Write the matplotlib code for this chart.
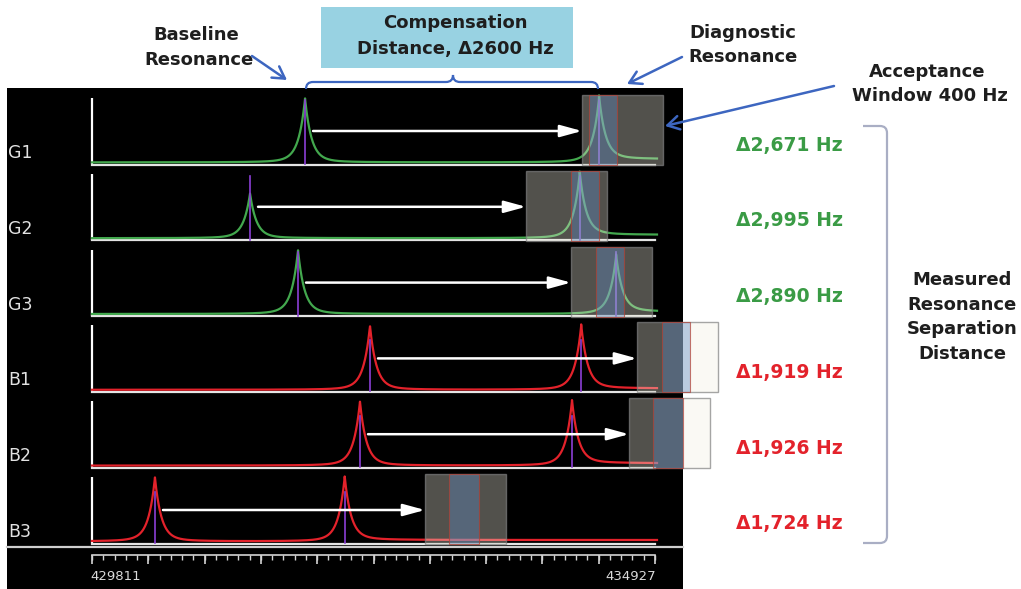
import numpy as np
import matplotlib
matplotlib.use("Agg")
import matplotlib.pyplot as plt
from matplotlib.patches import Rectangle, PathPatch
from matplotlib.path import Path

# ---------------- data (Hz) ----------------
rows = ["G1", "G2", "G3", "B1", "B2", "B3"]
groups = ["G", "G", "G", "B", "B", "B"]
baseline_res_hz = [431747, 431247, 431683, 432337, 432246, 430383]
separation_hz = [2671, 2995, 2890, 1919, 1926, 1724]
separation_labels = ["\u03942,671 Hz", "\u03942,995 Hz", "\u03942,890 Hz",
                     "\u03941,919 Hz", "\u03941,926 Hz", "\u03941,724 Hz"]
window_lo_hz = [434264, 433755, 434164, 434763, 434691, 432837]
window_width_hz = 736
inner_lo_hz = [434327, 434164, 434391, 434991, 434909, 433055]
inner_hi_hz = [434582, 434418, 434645, 435245, 435181, 433328]
base_peak_rel = [1.0, 0.70, 1.0, 1.0, 1.0, 1.0]
diag_peak_rel = [1.0, 1.0, 0.9, 1.0, 1.0, 1.0]
marker_rel = [1.0, 1.0, 1.0, 0.8, 0.8, 0.8]
tail_level_px = [5, 5, 4, 3, 4, 3]
axis_lo_hz, axis_hi_hz = 429811, 434927
axis_tick_labels = ["429811", "434927"]
compensation_hz = 2600

# ---------------- layout ----------------
W, H = 1021, 589
fig = plt.figure(figsize=(W / 100, H / 100), dpi=100)
fig.patch.set_facecolor("white")

ov = fig.add_axes([0, 0, 1, 1])
ov.set_xlim(0, W)
ov.set_ylim(H, 0)
ov.axis("off")

x_lo_px, x_hi_px = 92, 655
hz_per_px = (axis_hi_hz - axis_lo_hz) / (x_hi_px - x_lo_px)
ax = fig.add_axes([0, 0, 1, 1])
ax.set_xlim(axis_lo_hz - x_lo_px * hz_per_px, axis_lo_hz + (W - x_lo_px) * hz_per_px)
ax.set_ylim(H, 0)
ax.axis("off")
ax.patch.set_alpha(0)

# black panel
ov.add_patch(Rectangle((7, 88), 676, 510, facecolor="black", edgecolor="none", zorder=0))

colors = {"G": "#43a84e", "B": "#e3222b"}
text_colors = {"G": "#3a9b45", "B": "#e3222b"}
purple = "#8c3fd6"

row_h = 64
xs = np.linspace(axis_lo_hz, axis_hi_hz + 2 * hz_per_px, 5000)


def line_shape(d):
    # sharp resonance peak with soft skirts
    return 0.85 * np.exp(-np.abs(d) / 50.0) + 0.15 / (1 + (d / 120.0) ** 2)


for i, name in enumerate(rows):
    b = 164 + 75.8 * i
    base = baseline_res_hz[i]
    diag = base + separation_hz[i]
    col = colors[groups[i]]

    ax.plot([axis_lo_hz, axis_lo_hz], [b, b - 66], color="white", lw=1.6, zorder=2,
            solid_capstyle="butt")
    ax.plot([axis_lo_hz, axis_hi_hz], [b + 0.5, b + 0.5], color="#e4e4e4", lw=1.6, zorder=2)

    prof = base_peak_rel[i] * line_shape(xs - base) + diag_peak_rel[i] * line_shape(xs - diag)
    off = np.where(xs > diag, tail_level_px[i], 1.6)
    ax.plot(xs, b - off - row_h * prof, color=col, lw=1.6, zorder=3)

    for pk in (base, diag):
        ax.plot([pk, pk], [b, b - row_h * marker_rel[i]], color=purple, lw=1.2, zorder=4)

    # compensation arrow
    ax.annotate("", xy=(window_lo_hz[i], b - 33), xytext=(base + 8 * hz_per_px, b - 33),
                arrowprops=dict(arrowstyle="-|>,head_length=1.1,head_width=0.3",
                                color="white", lw=1.8, mutation_scale=12,
                                shrinkA=0, shrinkB=0), zorder=5)

    # acceptance window
    ax.add_patch(Rectangle((window_lo_hz[i], b - 69), window_width_hz, 70,
                           facecolor=(0.95, 0.94, 0.88, 0.34),
                           edgecolor=(0.5, 0.5, 0.5, 0.7), lw=1, zorder=6))
    ax.add_patch(Rectangle((inner_lo_hz[i], b - 69), inner_hi_hz[i] - inner_lo_hz[i], 70,
                           facecolor=(0.37, 0.53, 0.75, 0.40),
                           edgecolor=(0.70, 0.25, 0.20, 0.7), lw=0.8, zorder=7))

    ov.text(8, b - 11, name, color="#e2e2e2", fontsize=12.5, ha="left", va="center", zorder=3)

    ov.text(789, b - 19, separation_labels[i], color=text_colors[groups[i]],
            fontsize=13.5, fontweight="bold", ha="center", va="center")

# frequency axis
ov.plot([7, 683], [547, 547], color="#cfcfcf", lw=1.6, zorder=1)
ax.plot([axis_lo_hz, axis_hi_hz], [555, 555], color="#d4d4d4", lw=1.2, zorder=2)
minor = np.linspace(axis_lo_hz, axis_hi_hz, 51)
major = np.linspace(axis_lo_hz, axis_hi_hz, 11)
ax.vlines(minor, 555, 560, color="#d4d4d4", lw=1.0, zorder=2)
ax.vlines(major, 555, 564, color="#d4d4d4", lw=1.2, zorder=2)
ax.text(axis_lo_hz - 2 * hz_per_px, 577, axis_tick_labels[0], color="#dadada", fontsize=9.5,
        ha="left", va="center")
ax.text(axis_hi_hz + 1 * hz_per_px, 577, axis_tick_labels[1], color="#dadada", fontsize=9.5,
        ha="right", va="center")

# ---------------- annotations ----------------
dark = "#1e1e1e"
blue = "#3d66c0"
fs = 13

ov.add_patch(Rectangle((321, 7), 252, 61, facecolor="#98d2e2", edgecolor="none"))
ov.text(455, 23, "Compensation", fontsize=fs, fontweight="bold", color=dark, ha="center", va="center")
ov.text(455, 49, "Distance, \u0394%d Hz" % compensation_hz, fontsize=fs, fontweight="bold",
        color=dark, ha="center", va="center")

ov.text(196, 35, "Baseline", fontsize=fs, fontweight="bold", color=dark, ha="center", va="center")
ov.text(199, 60, "Resonance", fontsize=fs, fontweight="bold", color=dark, ha="center", va="center")

ov.text(743, 33, "Diagnostic", fontsize=fs, fontweight="bold", color=dark, ha="center", va="center")
ov.text(743, 57, "Resonance", fontsize=fs, fontweight="bold", color=dark, ha="center", va="center")

ov.text(927, 72, "Acceptance", fontsize=fs, fontweight="bold", color=dark, ha="center", va="center")
ov.text(930, 96, "Window 400 Hz", fontsize=fs, fontweight="bold", color=dark, ha="center", va="center")

for j, line in enumerate(["Measured", "Resonance", "Separation", "Distance"]):
    ov.text(962, 280 + 24.7 * j, line, fontsize=fs, fontweight="bold", color=dark,
            ha="center", va="center")

arrow_kw = dict(arrowstyle="->,head_length=0.6,head_width=0.35", color=blue, lw=1.8,
                mutation_scale=14, shrinkA=0, shrinkB=0)
ov.annotate("", xy=(287, 80), xytext=(252, 56), arrowprops=arrow_kw)
ov.annotate("", xy=(627, 84), xytext=(682, 57), arrowprops=arrow_kw)
ov.annotate("", xy=(665, 126), xytext=(834, 86), arrowprops=arrow_kw)

# curly brace under compensation box
brace = Path([(306, 89), (306, 82), (313, 82), (446, 82), (453, 82), (453, 75),
              (453, 82), (460, 82), (591, 82), (598, 82), (598, 89)],
             [Path.MOVETO, Path.CURVE3, Path.CURVE3, Path.LINETO, Path.CURVE3, Path.CURVE3,
              Path.CURVE3, Path.CURVE3, Path.LINETO, Path.CURVE3, Path.CURVE3])
ov.add_patch(PathPatch(brace, facecolor="none", edgecolor=blue, lw=1.6))

# right bracket
bracket = Path([(863, 126), (880, 126), (887, 126), (887, 133), (887, 536), (887, 543),
                (880, 543), (863, 543)],
               [Path.MOVETO, Path.LINETO, Path.CURVE3, Path.CURVE3, Path.LINETO,
                Path.CURVE3, Path.CURVE3, Path.LINETO])
ov.add_patch(PathPatch(bracket, facecolor="none", edgecolor="#a9aec4", lw=1.6))

fig.savefig("out.png", dpi=100, facecolor="white")
